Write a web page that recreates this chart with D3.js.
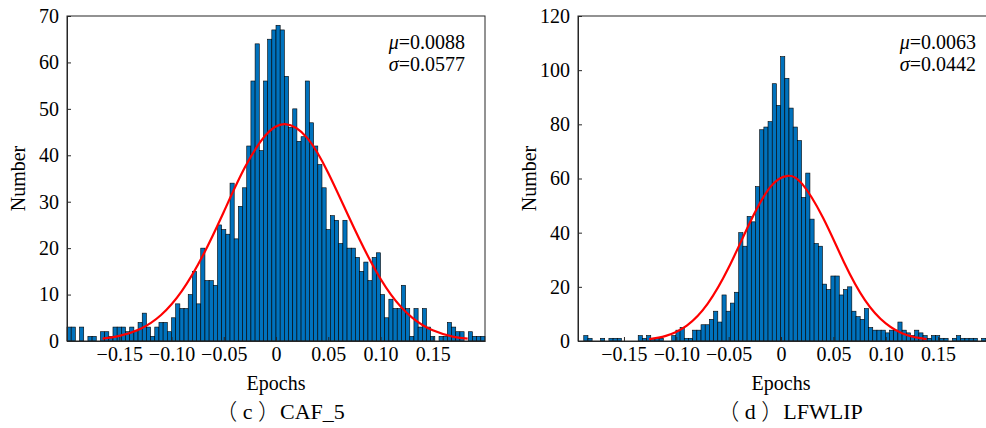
<!DOCTYPE html>
<html>
<head>
<meta charset="utf-8">
<script src="https://cdn.jsdelivr.net/npm/d3@7"></script>
<style>
body{margin:0;background:#fff;}
svg text{font-family:"Liberation Serif","Times New Roman",serif;fill:#000;}
</style>
</head>
<body>
<svg id="chart" width="986" height="428"></svg>
<script>
//直方图数据
var xTicks=[-0.15,-0.10,-0.05,0,0.05,0.10,0.15];
var binWidth=0.004;

//(c) CAF_5
var cafBinStart=-0.2;
var cafCounts=[3,3,0,3,0,1,1,0,2,2,
    1,3,3,3,2,3,2,4,6,3,
    1,3,4,4,2,5,8,7,7,10,
    15,8,20,13,13,12,25,24,23,34,
    22,29,33,42,56,64,41,56,65,67,
    68,67,57,46,50,43,44,56,47,42,
    38,33,24,27,26,21,26,20,20,18,
    15,17,13,18,19,10,5,9,7,7,
    12,7,1,7,3,7,3,1,0,1,
    1,4,3,2,2,0,2,1,1,1];
var cafYTicks=[0,10,20,30,40,50,60,70];
var cafCurveX=[-0.166,-0.15,-0.13,-0.11,-0.09,-0.07,-0.05,-0.03,-0.01,0.0088,0.03,0.05,0.07,0.09,0.11,0.13,0.15,0.17,0.1834];
var cafCurveY=[0.5,1.1,2.6,5.6,10.8,18.4,27.8,37.3,44.3,46.7,43.7,36.2,26.6,17.4,10.0,5.1,2.3,0.9,0.5];

//(d) LFWLIP
var lfwBinStart=-0.1924;
var lfwCounts=[0,2,1,0,0,1,0,1,1,1,
    0,0,0,0,2,1,2,1,1,1,
    0,0,2,4,5,1,1,4,4,6,
    6,8,11,7,17,11,14,18,40,35,
    46,44,57,78,79,81,95,87,105,97,
    86,79,74,53,62,45,36,35,21,19,
    24,24,17,19,20,11,9,8,12,5,
    4,4,4,3,4,4,7,4,3,2,
    4,3,2,1,2,2,1,1,0,1,
    2,1,1,1,1,0,1];
var lfwYTicks=[0,20,40,60,80,100,120];
var lfwCurveX=[-0.126,-0.11,-0.09,-0.07,-0.05,-0.03,-0.01,0.0063,0.02,0.04,0.06,0.08,0.10,0.12,0.139];
var lfwCurveY=[0.7,1.9,5.7,13.8,27.1,43.5,57.0,61.0,58.1,45.6,29.2,15.2,6.5,2.2,0.7];

var svg=d3.select("#chart");
var top0=16,bottom0=341;
var fontSize="20px";

function drawPanel(opt){
    var g=svg.append("g");
    var x=d3.scaleLinear().domain(opt.xDomain).range([opt.left,opt.left+opt.width]);
    var y=d3.scaleLinear().domain([0,opt.yMax]).range([bottom0,top0]);

    //柱子，先记下每个柱子的起点再去掉空的
    var bins=opt.counts.map(function(c,i){return {x0:opt.binStart+i*binWidth,count:c};})
        .filter(function(d){return d.count>0;});
    g.append("g").selectAll("rect")
        .data(bins)
        .enter().append("rect")
        .attr("x",function(d){return x(d.x0);})
        .attr("width",x(binWidth)-x(0))
        .attr("y",function(d){return y(d.count);})
        .attr("height",function(d){return y(0)-y(d.count);})
        .attr("fill","#0072BD")
        .attr("stroke","#000")
        .attr("stroke-width",0.6);

    //拟合曲线
    var pts=opt.curveX.map(function(v,i){return [v,opt.curveY[i]];});
    g.append("path")
        .datum(pts)
        .attr("fill","none")
        .attr("stroke","#ff0000")
        .attr("stroke-width",2.2)
        .attr("d",d3.line()
            .x(function(d){return x(d[0]);})
            .y(function(d){return y(d[1]);})
            .curve(d3.curveNatural));

    //坐标轴（刻度朝内）
    var xAxis=d3.axisBottom(x).tickValues(xTicks).tickSizeInner(-4).tickSizeOuter(0).tickPadding(6)
        .tickFormat(function(d){return d===0?"0":d3.format(".2f")(d);});
    var yAxis=d3.axisLeft(y).tickValues(opt.yTicks).tickSizeInner(-4).tickSizeOuter(0).tickPadding(8);
    var gx=g.append("g").attr("transform","translate(0,"+bottom0+")").call(xAxis);
    var gy=g.append("g").attr("transform","translate("+opt.left+",0)").call(yAxis);
    [gx,gy].forEach(function(a){
        a.selectAll("path,line").attr("stroke","#262626");
        a.selectAll("text").style("font-size",fontSize).attr("fill","#000");
        a.attr("font-family",null);
    });
    //外框
    g.append("rect")
        .attr("x",opt.left).attr("y",top0)
        .attr("width",opt.width).attr("height",bottom0-top0)
        .attr("fill","none").attr("stroke","#262626").attr("stroke-width",1);

    //标注
    var ax=opt.left+opt.width-20;
    var t1=g.append("text").attr("x",ax).attr("y",49).attr("text-anchor","end").style("font-size",fontSize);
    t1.append("tspan").style("font-style","italic").text("μ");
    t1.append("tspan").text("="+opt.mu);
    var t2=g.append("text").attr("x",ax).attr("y",71).attr("text-anchor","end").style("font-size",fontSize);
    t2.append("tspan").style("font-style","italic").text("σ");
    t2.append("tspan").text("="+opt.sigma);

    //轴标题
    g.append("text")
        .attr("transform","translate("+opt.ylabelX+","+((top0+bottom0)/2)+") rotate(-90)")
        .attr("text-anchor","middle").style("font-size",fontSize).text("Number");
    g.append("text")
        .attr("x",x(0)).attr("y",390)
        .attr("text-anchor","middle").style("font-size",fontSize).text("Epochs");
    var cap=g.append("text")
        .attr("x",opt.capX).attr("y",419)
        .attr("text-anchor","middle").style("font-size","22px");
    cap.append("tspan").style("font-family","'Noto Sans CJK SC'").style("font-weight","300").text("（");
    cap.append("tspan").text(" "+opt.tag+" ");
    cap.append("tspan").style("font-family","'Noto Sans CJK SC'").style("font-weight","300").text("）");
    cap.append("tspan").text(opt.name);
}

drawPanel({left:67,width:418,xDomain:[-0.2,0.2],binStart:cafBinStart,counts:cafCounts,
    yMax:70,yTicks:cafYTicks,curveX:cafCurveX,curveY:cafCurveY,
    mu:"0.0088",sigma:"0.0577",ylabelX:25,capX:280,tag:"c",name:"CAF_5"});
drawPanel({left:578,width:418,xDomain:[-0.1939,0.2053],binStart:lfwBinStart,counts:lfwCounts,
    yMax:120,yTicks:lfwYTicks,curveX:lfwCurveX,curveY:lfwCurveY,
    mu:"0.0063",sigma:"0.0442",ylabelX:536,capX:790,tag:"d",name:"LFWLIP"});
</script>
</body>
</html>
